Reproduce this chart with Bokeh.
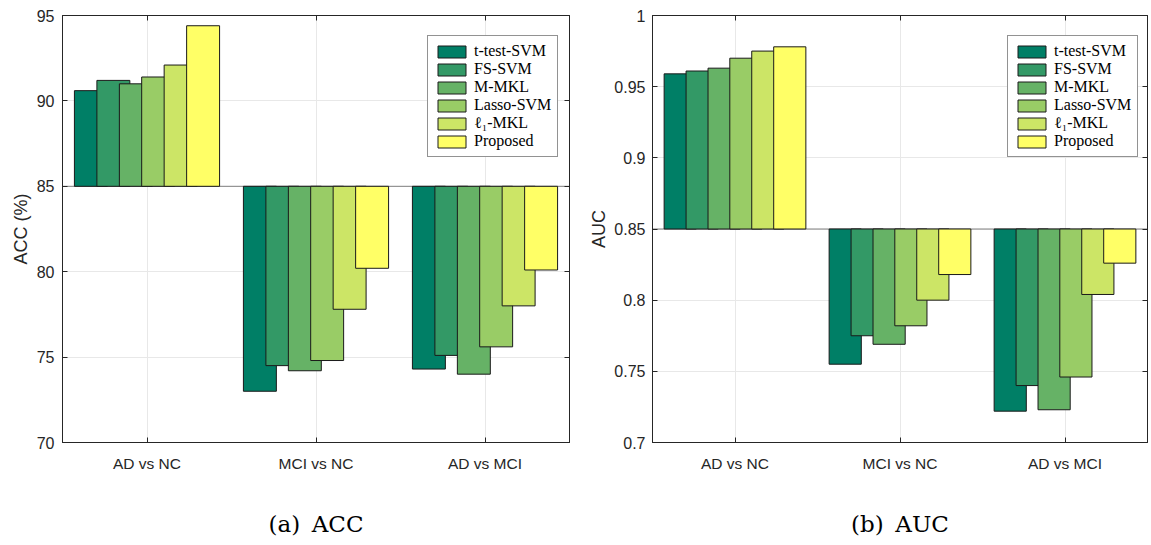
from bokeh.plotting import figure
from bokeh.models import (FactorRange, Range1d, FixedTicker, CustomJSTickFormatter, Span,
                          Legend, LegendItem, ColumnDataSource, LinearAxis, CategoricalAxis,
                          CustomLabelingPolicy)
from bokeh.transform import dodge
from bokeh.layouts import row
from bokeh.embed import file_html
from bokeh.resources import INLINE

categories = ["AD vs NC", "MCI vs NC", "AD vs MCI"]
methods = ["t-test-SVM", "FS-SVM", "M-MKL", "Lasso-SVM", "ℓ₁-MKL", "Proposed"]
colors = ["#007F66", "#339966", "#66B266", "#99CC66", "#CCE566", "#FFFF66"]

acc_ttest = [90.6, 73.0, 74.3]
acc_fs = [91.2, 74.5, 75.1]
acc_mmkl = [91.0, 74.2, 74.0]
acc_lasso = [91.4, 74.8, 75.6]
acc_l1mkl = [92.1, 77.8, 78.0]
acc_proposed = [94.4, 80.2, 80.1]

auc_ttest = [0.959, 0.755, 0.722]
auc_fs = [0.961, 0.775, 0.740]
auc_mmkl = [0.963, 0.769, 0.723]
auc_lasso = [0.970, 0.782, 0.746]
auc_l1mkl = [0.975, 0.800, 0.804]
auc_proposed = [0.978, 0.818, 0.826]

acc_ticks = [70, 75, 80, 85, 90, 95]
auc_ticks = [0.7, 0.75, 0.8, 0.85, 0.9, 0.95, 1.0]

AX = "#262626"
GRID = "#e8e8e8"
offsets = [-0.332, -0.199, -0.066, 0.066, 0.199, 0.332]
BAR_W = 0.195

HIDE_CODE = """
for (const i of Array.from(indices)) indices.unset(i)
return indices
"""


def make_panel(series, ylo, yhi, base, ticks, ylabel, caption, width,
               min_left, min_right, legend_loc, tick_standoff, label_standoff):
    p = figure(x_range=FactorRange(*categories), y_range=Range1d(ylo, yhi),
               width=width, height=545, output_backend="svg", toolbar_location=None,
               min_border_left=min_left, min_border_right=min_right,
               min_border_top=15, min_border_bottom=103)
    p.background_fill_color = "white"
    p.border_fill_color = "white"
    p.outline_line_color = AX
    p.outline_line_width = 1

    # grid
    p.xgrid.grid_line_color = GRID
    p.ygrid.grid_line_color = GRID

    # y axis
    p.yaxis.ticker = FixedTicker(ticks=ticks)
    p.yaxis.formatter = CustomJSTickFormatter(code="return tick.toString()")
    p.yaxis.major_tick_in = 5
    p.yaxis.major_tick_out = 0
    p.yaxis.minor_tick_line_color = None
    p.yaxis.axis_line_color = AX
    p.yaxis.major_tick_line_color = AX
    p.yaxis.major_label_text_font = "Liberation Sans"
    p.yaxis.major_label_text_font_size = "16px"
    p.yaxis.major_label_text_color = AX
    p.yaxis.major_label_standoff = tick_standoff
    p.yaxis.axis_label = ylabel
    p.yaxis.axis_label_text_font = "Liberation Sans"
    p.yaxis.axis_label_text_font_size = "18px"
    p.yaxis.axis_label_text_font_style = "normal"
    p.yaxis.axis_label_text_color = AX
    p.yaxis.axis_label_standoff = label_standoff

    # x axis
    p.xaxis.major_tick_in = 5
    p.xaxis.major_tick_out = 0
    p.xaxis.axis_line_color = AX
    p.xaxis.major_tick_line_color = AX
    p.xaxis.major_label_text_font = "Liberation Sans"
    p.xaxis.major_label_text_font_size = "15.5px"
    p.xaxis.major_label_text_color = AX
    p.xaxis.major_label_standoff = 12
    p.xaxis.axis_label = caption
    p.xaxis.axis_label_text_font = "DejaVu Serif"
    p.xaxis.axis_label_text_font_size = "23px"
    p.xaxis.axis_label_text_font_style = "normal"
    p.xaxis.axis_label_text_color = "black"
    p.xaxis.axis_label_standoff = 36

    # mirrored inward tick marks on the top and right edges (no labels)
    right = LinearAxis(ticker=FixedTicker(ticks=ticks),
                       formatter=CustomJSTickFormatter(code="return ''"),
                       major_label_policy=CustomLabelingPolicy(code=HIDE_CODE),
                       major_label_text_font_size="1px", major_label_standoff=0,
                       major_tick_in=5, major_tick_out=0,
                       axis_line_color=AX, major_tick_line_color=AX,
                       minor_tick_line_color=None)
    p.add_layout(right, "right")
    top = CategoricalAxis(major_label_overrides={c: "" for c in categories},
                          major_label_policy=CustomLabelingPolicy(code=HIDE_CODE),
                          major_label_text_font_size="1px", major_label_standoff=0,
                          major_tick_in=5, major_tick_out=0,
                          axis_line_color=AX, major_tick_line_color=AX)
    p.add_layout(top, "above")

    # baseline
    p.add_layout(Span(location=base, dimension="width", line_color="#808080",
                      line_width=1, level="underlay"))

    items = []
    for vals, off, col, name in zip(series, offsets, colors, methods):
        src = ColumnDataSource(dict(cat=categories, val=vals))
        r = p.vbar(x=dodge("cat", off, range=p.x_range), top="val", bottom=base,
                   width=BAR_W, source=src, fill_color=col, line_color="#1a1a1a",
                   line_width=1)
        items.append(LegendItem(label=name, renderers=[r]))

    legend = Legend(items=items, location=legend_loc)
    legend.label_text_font = "Liberation Serif"
    legend.label_text_font_size = "16px"
    legend.label_text_color = "black"
    legend.glyph_width = 35
    legend.glyph_height = 15
    legend.label_height = 15
    legend.label_standoff = 5
    legend.spacing = 0
    legend.padding = 6
    legend.margin = 0
    legend.border_line_color = AX
    legend.border_line_width = 1
    legend.background_fill_color = "white"
    legend.background_fill_alpha = 1
    p.add_layout(legend)
    return p


p1 = make_panel([acc_ttest, acc_fs, acc_mmkl, acc_lasso, acc_l1mkl, acc_proposed],
                70, 95, 85, acc_ticks, "ACC (%)", "(a)\u2002ACC", 580, 62, 11,
                (365, 285), 8, 3)
p2 = make_panel([auc_ttest, auc_fs, auc_mmkl, auc_lasso, auc_l1mkl, auc_proposed],
                0.7, 1.0, 0.85, auc_ticks, "AUC", "(b)\u2002AUC", 571, 72, 4,
                (355, 285), 7, 2)

layout = row(p1, p2)
open("out.html", "w").write(file_html(layout, INLINE))
